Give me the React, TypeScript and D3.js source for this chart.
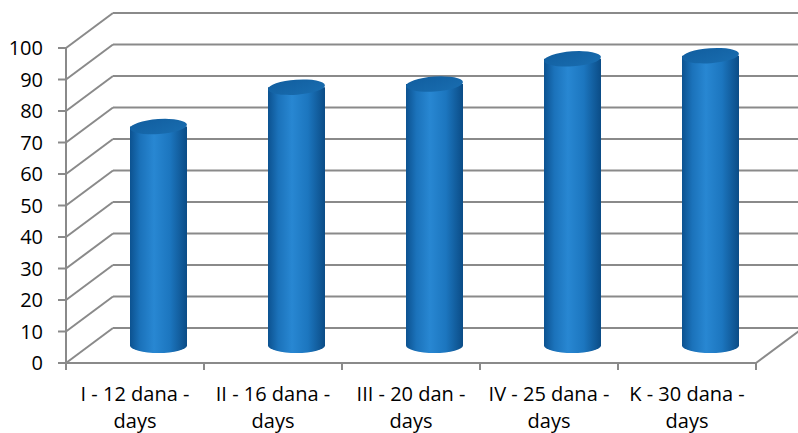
import * as d3 from "d3";

const categories = [
  "I - 12 dana -",
  "II - 16 dana -",
  "III - 20 dan -",
  "IV - 25 dana -",
  "K - 30 dana -",
];
const secondLine = "days";
const values = [69.5, 82, 83, 91, 92];
const yTicks = [0, 10, 20, 30, 40, 50, 60, 70, 80, 90, 100];

const W = 798;
const H = 433;
const font = "'Open Sans', 'Liberation Sans', sans-serif";

export default function App() {
  // front plane
  const x = d3.scaleBand<string>().domain(categories).range([66, 756]);
  const y = d3.scaleLinear().domain([0, 100]).range([363, 48]);
  // depth offset of the back wall
  const dx = 47;
  const dy = -35;
  const grid = "#8a8a8a";

  const rx = 28.5;
  const ry = 7.5;

  return (
    <div style={{ position: "fixed", left: 0, top: 0 }}>
      <svg width={W} height={H} style={{ display: "block", background: "#fff" }}>
        <defs>
          <linearGradient id="body" x1="0" x2="1" y1="0" y2="0">
            <stop offset="0%" stopColor="#0c5290" />
            <stop offset="18%" stopColor="#1b72ba" />
            <stop offset="42%" stopColor="#2887d2" />
            <stop offset="70%" stopColor="#1c76bf" />
            <stop offset="100%" stopColor="#0b4c86" />
          </linearGradient>
          <linearGradient id="top" x1="0" x2="1" y1="0" y2="1">
            <stop offset="0%" stopColor="#115e9f" />
            <stop offset="100%" stopColor="#196db0" />
          </linearGradient>
        </defs>

        {/* back wall gridlines */}
        {yTicks.map((t) => (
          <line
            key={"b" + t}
            x1={66 + dx}
            x2={W + 10}
            y1={y(t) + dy}
            y2={y(t) + dy}
            stroke={grid}
            strokeWidth={2}
          />
        ))}
        {/* left wall diagonals */}
        {yTicks.map((t) => (
          <line
            key={"d" + t}
            x1={66}
            y1={y(t)}
            x2={66 + dx}
            y2={y(t) + dy}
            stroke={grid}
            strokeWidth={2}
          />
        ))}
        {/* floor right edge */}
        <line x1={756} y1={y(0)} x2={756 + dx} y2={y(0) + dy} stroke={grid} strokeWidth={2} />

        {/* cylinders */}
        {categories.map((c, i) => {
          const cx = (x(c) ?? 0) + x.bandwidth() / 2 + dx / 2;
          const yb = y(0) + dy / 2;
          const yt = y(values[i]) + dy / 2;
          const d = `M${cx - rx},${yt} L${cx - rx},${yb} A${rx},${ry} 0 0 0 ${cx + rx},${yb} L${cx + rx},${yt} Z`;
          return (
            <g key={c}>
              <path d={d} fill="url(#body)" />
              <ellipse
                cx={cx}
                cy={yt}
                rx={rx}
                ry={ry}
                fill="url(#top)"
                transform={`rotate(-4 ${cx} ${yt})`}
              />
            </g>
          );
        })}

        {/* front axes */}
        <line x1={66} x2={66} y1={y(100)} y2={y(0)} stroke={grid} strokeWidth={2} />
        <line x1={66} x2={756} y1={y(0)} y2={y(0)} stroke={grid} strokeWidth={2} />
        {yTicks.map((t) => (
          <g key={"t" + t}>
            <line x1={58} x2={66} y1={y(t)} y2={y(t)} stroke={grid} strokeWidth={2} />
            <text
              x={43}
              y={y(t)}
              dy="0.36em"
              textAnchor="end"
              fontFamily={font}
              fontSize={20}
              fill="#000"
            >
              {t}
            </text>
          </g>
        ))}
        {[...categories.map((c) => x(c) ?? 0), 756].map((v, i) => (
          <line key={"x" + i} x1={v} x2={v} y1={y(0)} y2={y(0) + 7} stroke={grid} strokeWidth={2} />
        ))}
        {categories.map((c) => {
          const cx = (x(c) ?? 0) + x.bandwidth() / 2;
          return (
            <text key={"l" + c} textAnchor="middle" fontFamily={font} fontSize={20} fill="#000">
              <tspan x={cx} y={401}>
                {c}
              </tspan>
              <tspan x={cx} y={428}>
                {secondLine}
              </tspan>
            </text>
          );
        })}
      </svg>
    </div>
  );
}
